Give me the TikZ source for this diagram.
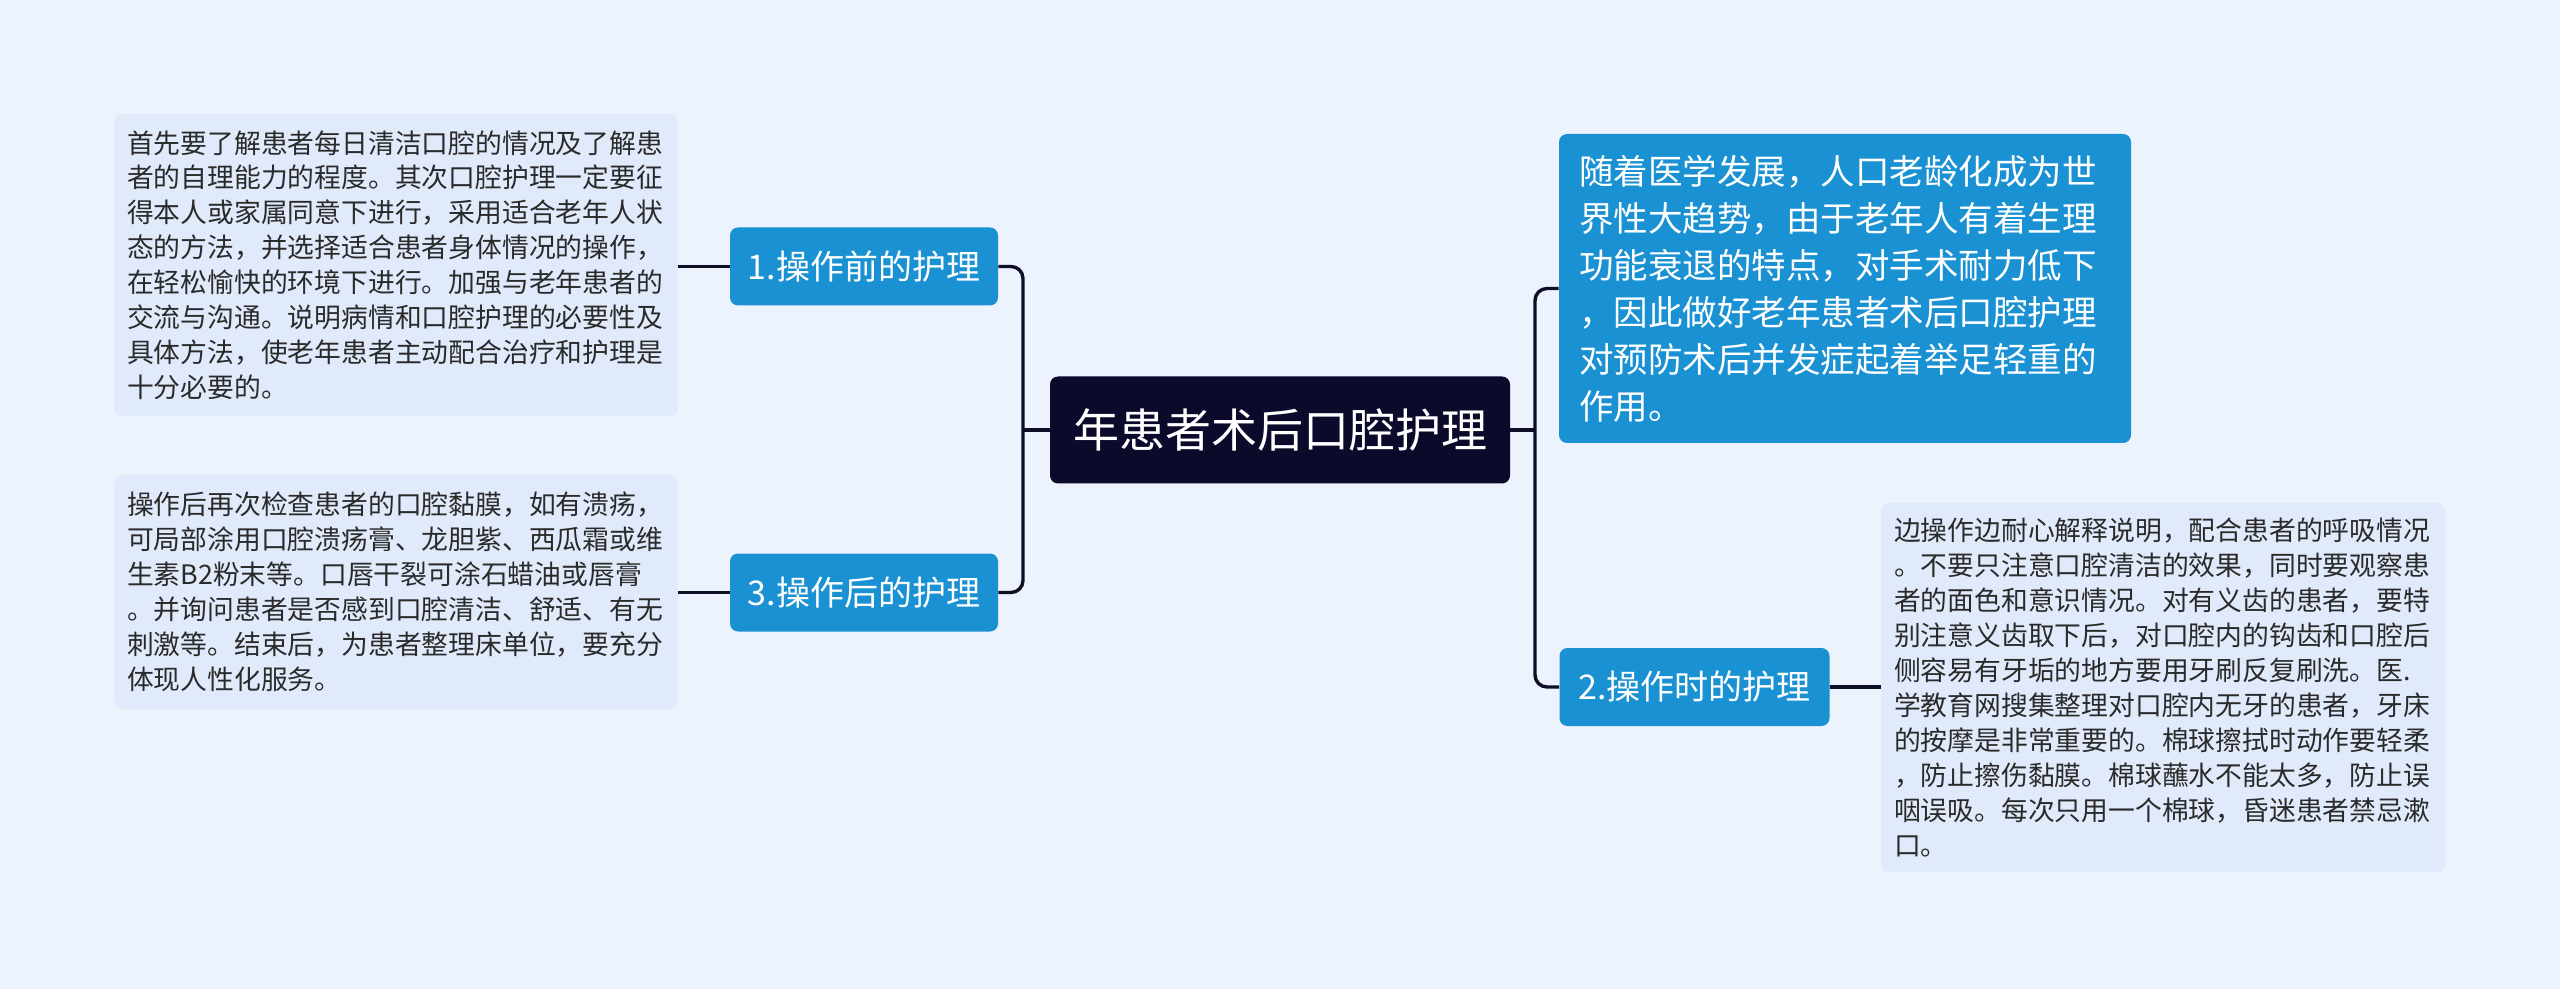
\documentclass[tikz,border=0pt]{standalone}
\usepackage{fontspec}
\newfontfamily\cjk{Noto Sans CJK SC}
\definecolor{bg}{HTML}{EDF3FD}
\definecolor{leaffill}{HTML}{E1EAFB}
\definecolor{bluebox}{HTML}{1A91D2}
\definecolor{rootfill}{HTML}{0B0A2B}
\definecolor{linec}{HTML}{0E0E26}
\definecolor{leaftext}{HTML}{2A2A2A}
\tikzset{
  rootbox/.style={fill=rootfill, rounded corners=4pt, text=white, minimum width=230pt, minimum height=53.5pt, inner sep=0pt, font=\cjk\fontsize{23}{28}\selectfont},
  branchbox/.style={fill=bluebox, rounded corners=4pt, text=white, minimum width=134pt, minimum height=39pt, inner sep=0pt, font=\cjk\fontsize{17}{21}\selectfont},
  infobox/.style={fill=bluebox, rounded corners=4pt, text=white, minimum width=286pt, minimum height=154.5pt, inner sep=0pt, align=left, text width=266pt, font=\cjk\fontsize{17.25}{23.5}\selectfont},
  leafbox/.style={fill=leaffill, rounded corners=4pt, text=leaftext, minimum width=282pt, inner sep=0pt, align=left, text width=269pt, font=\cjk\fontsize{13.4}{17.45}\selectfont},
  conn/.style={draw=linec, line width=1.7pt, rounded corners=6pt}
}
\begin{document}
\begin{tikzpicture}[x=0.5pt,y=-0.5pt]
\useasboundingbox[fill=bg] (0,0) rectangle (2560,989);
\node[rootbox] (c) at (1280,430) {年患者术后口腔护理};
\node[branchbox] (b1) at (864,266.5) {1.操作前的护理};
\node[branchbox] (b3) at (864,592.5) {3.操作后的护理};
\node[branchbox, minimum width=135pt] (b2) at (1694.5,687) {2.操作时的护理};
\node[infobox] (t) at (1845,288.5) {随着医学发展，人口老龄化成为世\\界性大趋势，由于老年人有着生理\\功能衰退的特点，对手术耐力低下\\，因此做好老年患者术后口腔护理\\对预防术后并发症起着举足轻重的\\作用。};
\node[leafbox, minimum height=151pt] (l1) at (396,265) {首先要了解患者每日清洁口腔的情况及了解患\\者的自理能力的程度。其次口腔护理一定要征\\得本人或家属同意下进行，采用适合老年人状\\态的方法，并选择适合患者身体情况的操作，\\在轻松愉快的环境下进行。加强与老年患者的\\交流与沟通。说明病情和口腔护理的必要性及\\具体方法，使老年患者主动配合治疗和护理是\\十分必要的。};
\node[leafbox, minimum height=117pt] (l3) at (396,592) {操作后再次检查患者的口腔黏膜，如有溃疡，\\可局部涂用口腔溃疡膏、龙胆紫、西瓜霜或维\\生素B2粉末等。口唇干裂可涂石蜡油或唇膏\\。并询问患者是否感到口腔清洁、舒适、有无\\刺激等。结束后，为患者整理床单位，要充分\\体现人性化服务。};
\node[leafbox, minimum height=184.5pt] (l2) at (2163,687.5) {边操作边耐心解释说明，配合患者的呼吸情况\\。不要只注意口腔清洁的效果，同时要观察患\\者的面色和意识情况。对有义齿的患者，要特\\别注意义齿取下后，对口腔内的钩齿和口腔后\\侧容易有牙垢的地方要用牙刷反复刷洗。医.\\学教育网搜集整理对口腔内无牙的患者，牙床\\的按摩是非常重要的。棉球擦拭时动作要轻柔\\，防止擦伤黏膜。棉球蘸水不能太多，防止误\\咽误吸。每次只用一个棉球，昏迷患者禁忌漱\\口。};
\coordinate (lj) at (1023,430);
\coordinate (rj) at (1535,430);
\draw[conn] (c.west) -- (lj);
\draw[conn] (b1.east) -| (lj) |- (b3.east);
\draw[conn] (c.east) -- (rj);
\draw[conn] (t.west) -| (rj) |- (b2.west);
\draw[conn] (b1.west) -- (b1.west -| l1.east);
\draw[conn] (b3.west) -- (b3.west -| l3.east);
\draw[conn] (b2.east) -- (b2.east -| l2.west);
\end{tikzpicture}
\end{document}
